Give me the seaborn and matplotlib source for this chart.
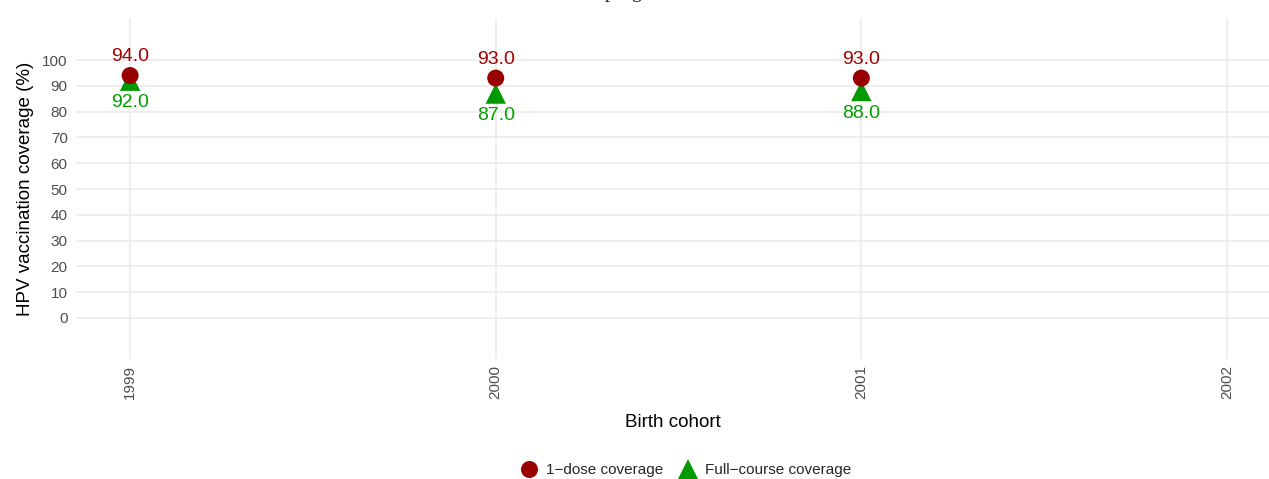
import matplotlib
matplotlib.use("Agg")
import matplotlib.pyplot as plt
import seaborn as sns
import pandas as pd

# Coverage by birth cohort
cohorts = [1999, 2000, 2001]
one_dose = [94.0, 93.0, 93.0]
full_course = [92.0, 87.0, 88.0]
x_ticks = [1999, 2000, 2001, 2002]
y_ticks = list(range(0, 101, 10))
series_names = ["1\u2212dose coverage", "Full\u2212course coverage"]

sns.set_theme(style="white")
plt.rcParams["font.family"] = ["Liberation Sans", "DejaVu Sans"]

dark_red = "#990000"
green = "#009900"

# Full-course rows come first so the circles are drawn on top
df = pd.DataFrame({
    "cohort": cohorts + cohorts,
    "coverage": full_course + one_dose,
    "series": [series_names[1]] * len(cohorts) + [series_names[0]] * len(cohorts),
})

fig = plt.figure(figsize=(12.69, 4.79), dpi=100)
ax = fig.add_axes([76 / 1269, (479 - 359) / 479, 1 - 76 / 1269, (359 - 18) / 479])

sns.scatterplot(
    data=df, x="cohort", y="coverage",
    hue="series", style="series", size="series",
    hue_order=series_names, style_order=series_names, size_order=series_names,
    palette={series_names[0]: dark_red, series_names[1]: green},
    markers={series_names[0]: "o", series_names[1]: "^"},
    sizes={series_names[0]: 150, series_names[1]: 215},
    linewidth=0, ax=ax, zorder=3,
)

for x, v in zip(cohorts, one_dose):
    ax.annotate(f"{v:.1f}", (x, v), xytext=(0, 13.5), textcoords="offset points",
                ha="center", va="center", color="#A30000", fontsize=14)
for x, v in zip(cohorts, full_course):
    ax.annotate(f"{v:.1f}", (x, v), xytext=(0, -16), textcoords="offset points",
                ha="center", va="center", color="#00A000", fontsize=14)

ax.set_xlim(1998.852, 2002.115)
ax.set_ylim(-15.9, 116.3)
ax.set_xticks(x_ticks)
ax.set_xticklabels([str(t) for t in x_ticks], rotation=90)
ax.set_yticks(y_ticks)
ax.tick_params(axis="both", length=0, labelsize=11, colors="#4D4D4D")
ax.tick_params(axis="y", pad=6)
ax.tick_params(axis="x", pad=4)
ax.grid(True, color="#EBEBEB", linewidth=1.2)
ax.set_axisbelow(True)
for sp in ax.spines.values():
    sp.set_visible(False)

ax.set_xlabel("Birth cohort", fontsize=13.5, color="black", labelpad=11)
ax.set_ylabel("HPV vaccination coverage (%)", fontsize=13.5, color="black", labelpad=6)

sns.move_legend(ax, "center", bbox_to_anchor=(0.5 + 10 / 1193, (359 - 470) / 341),
                ncol=2, frameon=False, title=None, fontsize=11,
                handletextpad=0.1, columnspacing=0.6, markerscale=1.0)

fig.text(0.5 + 6 / 1269, 1 + 3 / 479, "program", ha="center", va="baseline",
         fontsize=15, family=["Liberation Serif", "DejaVu Serif"])

fig.savefig("out.png", dpi=100)
